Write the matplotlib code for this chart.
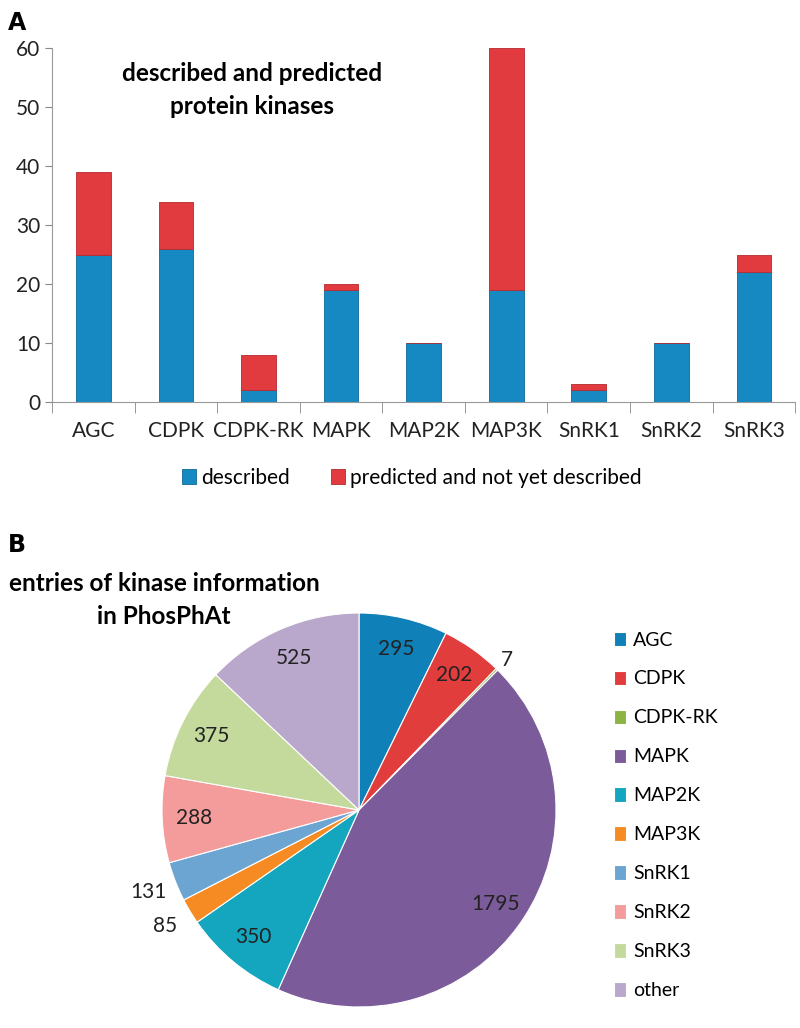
import matplotlib
matplotlib.use("Agg")
import matplotlib.pyplot as plt
import numpy as np

plt.rcParams['font.family'] = ['Lato', 'DejaVu Sans']

# Panel A: described and predicted protein kinases
families = ['AGC', 'CDPK', 'CDPK-RK', 'MAPK', 'MAP2K', 'MAP3K', 'SnRK1', 'SnRK2', 'SnRK3']
described = [25, 26, 2, 19, 10, 19, 2, 10, 22]
predicted = [14, 8, 6, 1, 0, 41, 1, 0, 3]

# Panel B: entries of kinase information in PhosPhAt
pie_labels = ['AGC', 'CDPK', 'CDPK-RK', 'MAPK', 'MAP2K', 'MAP3K', 'SnRK1', 'SnRK2', 'SnRK3', 'other']
entries = [295, 202, 7, 1795, 350, 85, 131, 288, 375, 525]

blue = '#1689c2'
red = '#e23b3f'
pie_colors = ['#0f80b8', '#e23d3d', '#8db443', '#7b5b99', '#14a6bf', '#f68b24',
              '#6da5d2', '#f49c9b', '#c4da9c', '#baa8cc']

fig = plt.figure(figsize=(8, 10.28), dpi=100)

# ---- A ----
ax = fig.add_axes([0.065, 0.609, 0.929, 0.344])
x = np.arange(len(families))
b1 = ax.bar(x, described, width=0.42, color=blue, edgecolor='#0d6a99', linewidth=0.6,
            label='described')
b2 = ax.bar(x, predicted, width=0.42, bottom=described, color=red, edgecolor='#b52a2e',
            linewidth=0.6, label='predicted and not yet described')
ax.set_xlim(-0.5, len(families) - 0.5)
ax.set_ylim(0, 60)
ax.set_yticks(range(0, 61, 10))
ax.tick_params(axis='y', labelsize=15, color='#888888', length=5, labelcolor='#222222')
ax.set_xticks(x)
ax.set_xticklabels(families, fontsize=15, color='#222222')
ax.tick_params(axis='x', length=0, pad=14)
ax.set_xticks(np.arange(-0.5, len(families)), minor=True)
ax.tick_params(axis='x', which='minor', length=8, color='#888888')
for s in ['top', 'right']:
    ax.spines[s].set_visible(False)
for s in ['left', 'bottom']:
    ax.spines[s].set_color('#999999')
fig.text(252 / 800, 1 - 90 / 1028, 'described and predicted\nprotein kinases',
         ha='center', va='center', fontsize=17.5, fontweight='bold', linespacing=1.55)
fig.legend(handles=[b1, b2], loc='center', bbox_to_anchor=(0.515, 1 - 478 / 1028),
           ncol=2, frameon=False, fontsize=15, handlelength=0.65, handleheight=0.75,
           handletextpad=0.25, columnspacing=2.0)

fig.text(0.01, 1 - 30 / 1028, 'A', fontsize=17, fontweight='bold', family='DejaVu Sans')
fig.text(0.01, 1 - 552 / 1028, 'B', fontsize=17, fontweight='bold', family='DejaVu Sans')

# ---- B ----
axp = fig.add_axes([0.2025, 0.0204, 0.4925, 0.3833])
wedges, _ = axp.pie(entries, colors=pie_colors, startangle=90, counterclock=False,
                    radius=1.0, wedgeprops=dict(edgecolor='white', linewidth=0.8))
axp.set_xlim(-1, 1)
axp.set_ylim(-1, 1)
axp.set_aspect('equal')
outside = {'CDPK-RK': 1.07, 'MAP3K': 1.15, 'SnRK1': 1.15}
for w, lab, v in zip(wedges, pie_labels, entries):
    ang = np.deg2rad((w.theta1 + w.theta2) / 2)
    r = outside.get(lab, 0.84)
    axp.text(r * np.cos(ang), r * np.sin(ang), str(v), ha='center', va='center',
             fontsize=15, color='#222222')
fig.text(164 / 800, 1 - 600 / 1028, 'entries of kinase information\nin PhosPhAt',
         ha='center', va='center', fontsize=17.5, fontweight='bold', linespacing=1.5)
fig.legend(wedges, pie_labels, loc='upper left', bbox_to_anchor=(0.745, 1 - 614 / 1028),
           frameon=False, fontsize=14, handlelength=0.65, handleheight=0.75,
           handletextpad=0.35, labelspacing=1.13)

fig.savefig('out.png', dpi=100)
